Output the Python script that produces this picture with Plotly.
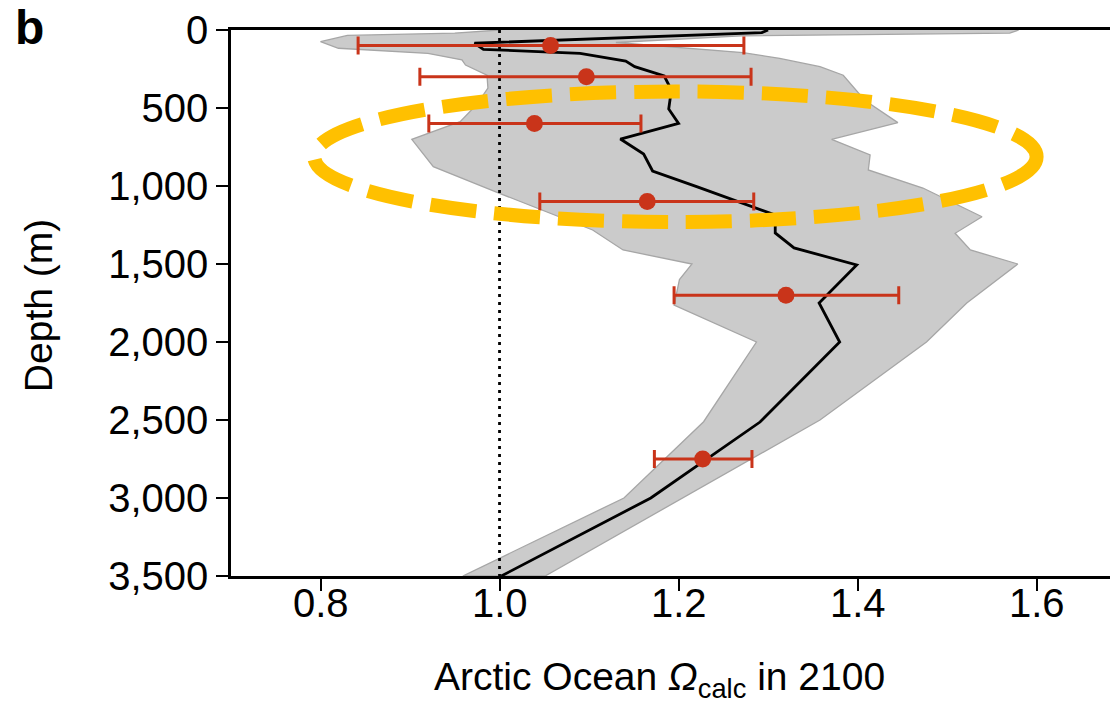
import plotly.graph_objects as go

# ---- data ----
band_min_depth = [0, 20, 35, 75, 117, 150, 192, 225, 290, 372, 481, 588, 701, 876, 1047, 1282, 1410, 1500, 1600, 1763, 2000, 2511, 3000, 3500]
band_min = [1.00, 0.95, 0.83, 0.80, 0.82, 0.92, 0.958, 0.962, 0.986, 0.987, 0.974, 0.956, 0.902, 0.926, 1.000, 1.104, 1.138, 1.215, 1.201, 1.195, 1.287, 1.228, 1.139, 0.959]

band_max_depth = [0, 20, 38, 80, 145, 182, 235, 290, 450, 594, 701, 801, 897, 1013, 1197, 1303, 1410, 1500, 1750, 2000, 2500, 3000, 3500]
band_max = [1.58, 1.57, 1.27, 1.13, 1.272, 1.313, 1.358, 1.384, 1.408, 1.445, 1.371, 1.414, 1.412, 1.473, 1.539, 1.509, 1.526, 1.579, 1.522, 1.477, 1.358, 1.204, 1.051]

mean_depth = [0, 17, 85, 124, 150, 199, 235, 295, 385, 506, 599, 699, 795, 904, 1006, 1186, 1301, 1397, 1506, 1750, 2000, 2513, 3000, 3500]
mean_val = [1.30, 1.293, 0.972, 0.982, 1.090, 1.141, 1.151, 1.184, 1.192, 1.189, 1.200, 1.135, 1.161, 1.171, 1.221, 1.308, 1.308, 1.329, 1.399, 1.357, 1.380, 1.291, 1.169, 1.002]

obs_depth = [100, 300, 600, 1100, 1700, 2750]
obs_val = [1.057, 1.097, 1.039, 1.165, 1.320, 1.227]
obs_low = [0.842, 0.911, 0.921, 1.045, 1.195, 1.173]
obs_high = [1.273, 1.281, 1.158, 1.284, 1.446, 1.282]

saturation_x = [1.0, 1.0]
saturation_depth = [0, 3500]

y_ticks = [0, 500, 1000, 1500, 2000, 2500, 3000, 3500]
x_ticks = [0.8, 1.0, 1.2, 1.4, 1.6]
x_tick_labels = ["0.8", "1.0", "1.2", "1.4", "1.6"]

# highlighted region (ellipse) in data coordinates
ell_x = [0.793, 1.600]
ell_depth = [394, 1231]

FONT = "Liberation Sans, Arial, Helvetica, sans-serif"
RED = "#c9341a"

fig = go.Figure()

# grey model range band as closed polygon
poly_x = band_min + band_max[::-1]
poly_y = band_min_depth + band_max_depth[::-1]
fig.add_trace(go.Scatter(
    x=poly_x, y=poly_y, mode="lines", fill="toself",
    fillcolor="#cbcbcb", line=dict(color="#a6a6a6", width=1.3),
    hoverinfo="skip", showlegend=False))

# saturation line
fig.add_trace(go.Scatter(
    x=saturation_x, y=saturation_depth, mode="lines",
    line=dict(color="black", width=2.8, dash="3px,5px"),
    showlegend=False, hoverinfo="skip"))

# model mean
fig.add_trace(go.Scatter(
    x=mean_val, y=mean_depth, mode="lines",
    line=dict(color="black", width=2.8), showlegend=False))

# observations with error bars
err_plus = [h - v for h, v in zip(obs_high, obs_val)]
err_minus = [v - l for v, l in zip(obs_val, obs_low)]
fig.add_trace(go.Scatter(
    x=obs_val, y=obs_depth, mode="markers",
    marker=dict(color=RED, size=17, line=dict(width=0)),
    error_x=dict(type="data", array=err_plus, arrayminus=err_minus,
                 color=RED, thickness=3, width=9, symmetric=False),
    showlegend=False))

fig.add_shape(type="circle", xref="x", yref="y",
              x0=ell_x[0], x1=ell_x[1], y0=ell_depth[0], y1=ell_depth[1],
              line=dict(color="#FFC000", width=14, dash="46px,18px"),
              layer="above")

fig.update_layout(
    width=1110, height=707,
    margin=dict(l=231, r=0, t=30, b=131),
    paper_bgcolor="white", plot_bgcolor="white",
    font=dict(family=FONT, size=40, color="black"),
    showlegend=False,
)

fig.update_xaxes(
    range=[0.7, 1.682], tickvals=x_ticks, showticklabels=False,
    showline=True, linecolor="black", linewidth=2.5, mirror=True,
    ticks="outside", ticklen=12, tickwidth=2, tickcolor="black",
    showgrid=False, zeroline=False)

fig.update_yaxes(
    range=[3500, 0], tickvals=y_ticks, ticktext=[f"{v:,}" for v in y_ticks],
    showline=True, linecolor="black", linewidth=2.5, mirror=False,
    ticks="outside", ticklen=12, tickwidth=2, tickcolor="black",
    showgrid=False, zeroline=False, tickfont=dict(size=40, family=FONT))

# x tick labels placed close to the axis, as in the reference
for xv, lab in zip(x_ticks, x_tick_labels):
    fig.add_annotation(text=lab, xref="x", yref="paper", x=xv, y=-0.05,
                       showarrow=False, xanchor="center", yanchor="middle",
                       font=dict(size=40, family=FONT))

fig.add_annotation(text="Depth (m)", xref="paper", yref="paper",
                   x=-0.2196, y=0.496, textangle=-90, showarrow=False,
                   xanchor="center", yanchor="middle",
                   font=dict(size=39, family=FONT))
fig.add_annotation(text="Arctic Ocean <i>Ω</i><sub>calc</sub> in 2100",
                   xref="paper", yref="paper", x=0.488, y=-0.19,
                   showarrow=False, xanchor="center", yanchor="middle",
                   font=dict(size=39, family=FONT))
fig.add_annotation(text="<b>b</b>", xref="paper", yref="paper",
                   x=-0.2287, y=1.0037, showarrow=False,
                   xanchor="center", yanchor="middle",
                   font=dict(size=48, family=FONT))

fig.write_html("out.html")
